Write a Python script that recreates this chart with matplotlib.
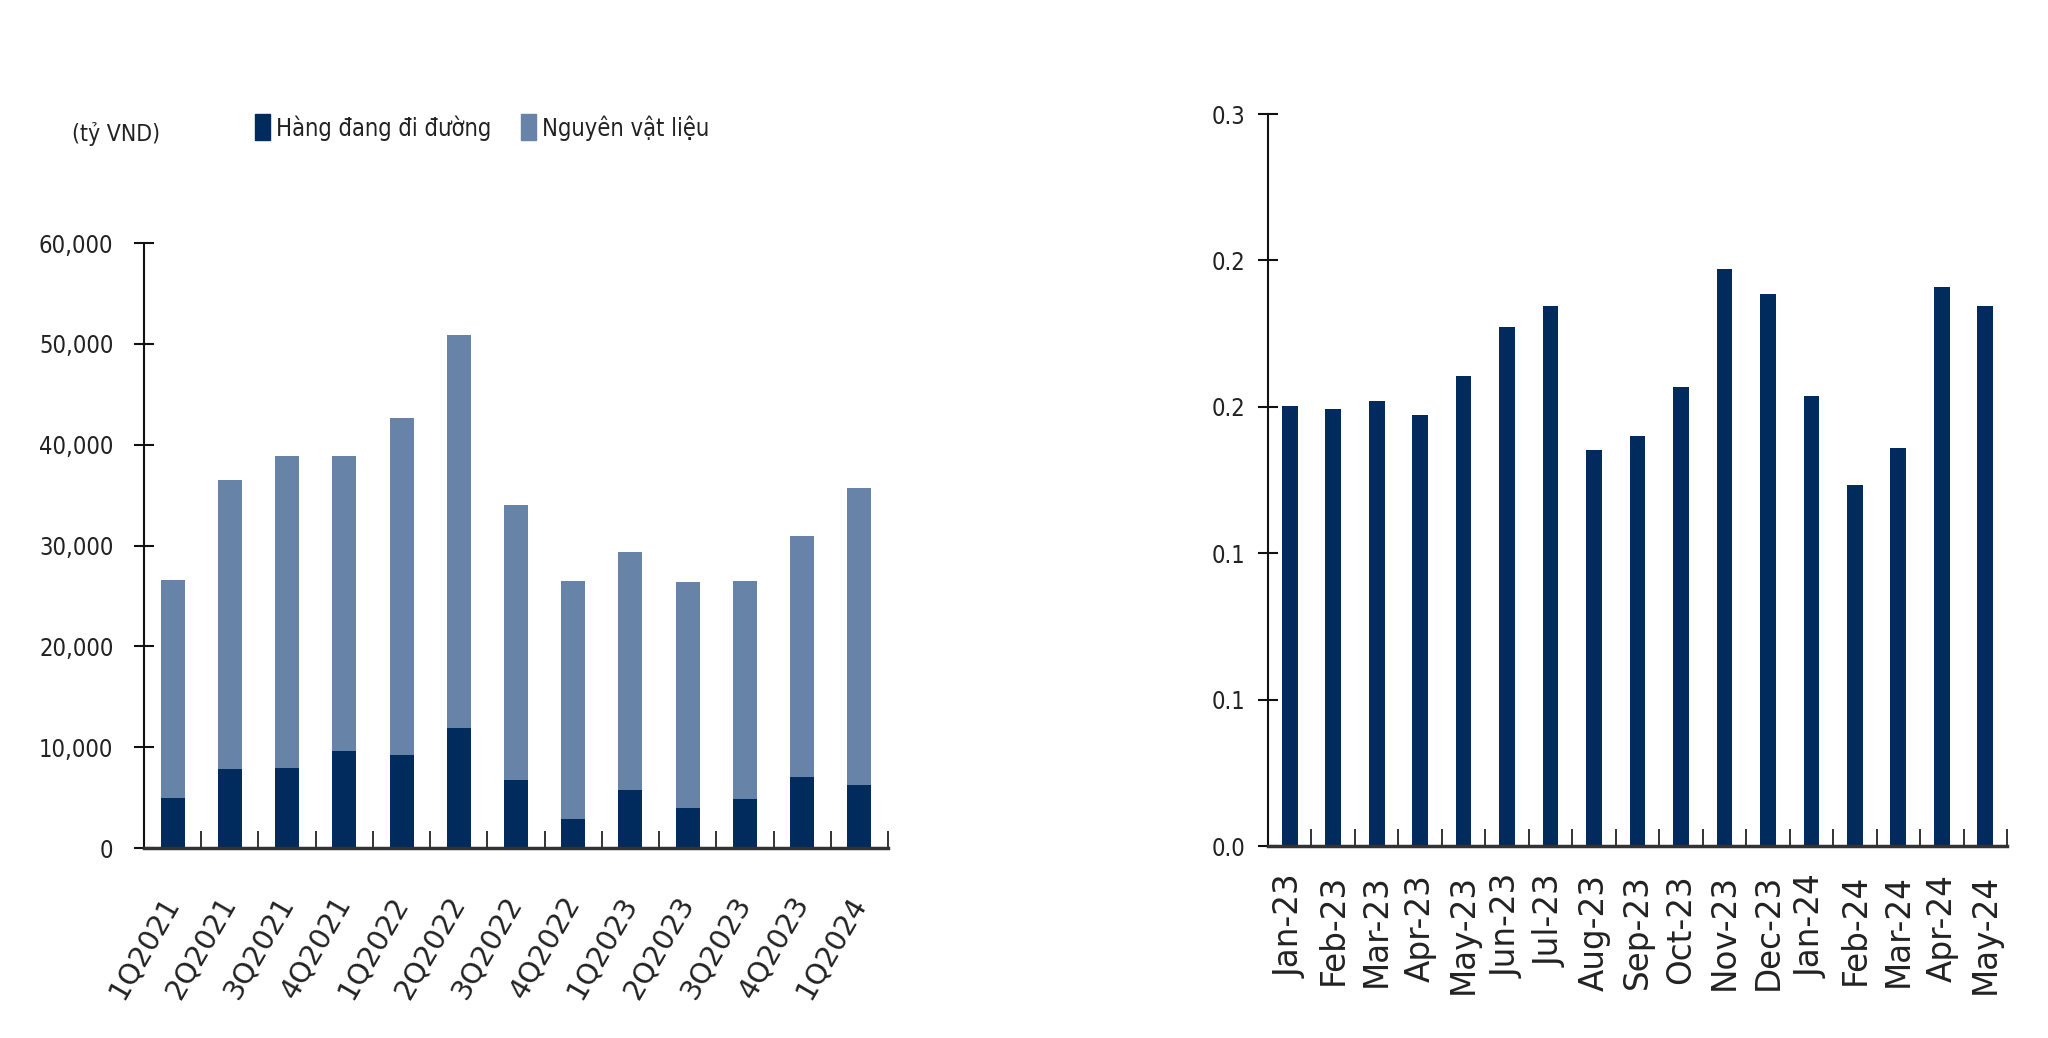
import matplotlib
matplotlib.use("Agg")
import matplotlib.pyplot as plt
import numpy as np
from matplotlib.patches import Rectangle
from matplotlib.ticker import FixedLocator, FuncFormatter

# ---------------- data ----------------
quarters = ["1Q2021", "2Q2021", "3Q2021", "4Q2021", "1Q2022", "2Q2022", "3Q2022",
            "4Q2022", "1Q2023", "2Q2023", "3Q2023", "4Q2023", "1Q2024"]
totals = [26600, 36500, 38900, 38900, 42600, 50900, 34000,
          26500, 29400, 26400, 26450, 30900, 35700]
in_transit = [5000, 7850, 7950, 9600, 9200, 11900, 6700,
              2850, 5750, 3950, 4900, 7000, 6200]
raw_materials = [t - d for t, d in zip(totals, in_transit)]

months = ["Jan-23", "Feb-23", "Mar-23", "Apr-23", "May-23", "Jun-23", "Jul-23",
          "Aug-23", "Sep-23", "Oct-23", "Nov-23", "Dec-23", "Jan-24", "Feb-24",
          "Mar-24", "Apr-24", "May-24"]
ratio = [0.1805, 0.1790, 0.1825, 0.1765, 0.1925, 0.2128, 0.2215,
         0.1622, 0.1682, 0.1880, 0.2363, 0.2263, 0.1845, 0.1478,
         0.1630, 0.2292, 0.2213]

left_yticks = [0, 10000, 20000, 30000, 40000, 50000, 60000]
right_yticks = [0.0, 0.06, 0.12, 0.18, 0.24, 0.30]

legend_labels = ["Hàng đang đi đường", "Nguyên vật liệu"]
unit_label = "(tỷ VND)"

# ---------------- style ----------------
DARK = "#002B5C"
LIGHT = "#6783A8"
TXT = "#222222"
NARROW = ["DejaVu Sans"]
XFONT = ["DejaVu Sans"]
STRETCH = "condensed"

W, H = 2048, 1038
fig = plt.figure(figsize=(W / 100, H / 100), dpi=100)

def fr(x0, y_top, x1, y_bot):
    return [x0 / W, (H - y_bot) / H, (x1 - x0) / W, (y_bot - y_top) / H]

def style_axes(ax, ypad):
    ax.spines["top"].set_visible(False)
    ax.spines["right"].set_visible(False)
    ax.spines["left"].set_color("#111111")
    ax.spines["left"].set_linewidth(1.5)
    ax.spines["bottom"].set_color("#333333")
    ax.spines["bottom"].set_linewidth(2.5)
    ax.tick_params(axis="y", direction="inout", length=14, width=1.5, color="#111111",
                   pad=ypad, labelsize=17, labelcolor=TXT)
    for lab in ax.get_yticklabels():
        lab.set_family(NARROW)
        lab.set_stretch(STRETCH)
    ax.tick_params(axis="x", which="major", length=0)
    ax.tick_params(axis="x", which="minor", direction="in", length=12, width=1.2,
                   color="#111111")

# ---------------- left chart ----------------
ax1 = fig.add_axes(fr(144, 243, 888, 848))
x = np.arange(len(quarters))
bw = 0.42
ax1.bar(x, in_transit, width=bw, color=DARK, zorder=2)
ax1.bar(x, raw_materials, width=bw, bottom=in_transit, color=LIGHT, zorder=2)
ax1.set_xlim(-0.5, len(quarters) - 0.5)
ax1.set_ylim(0, 60000)
ax1.yaxis.set_major_locator(FixedLocator(left_yticks))
ax1.yaxis.set_major_formatter(FuncFormatter(lambda v, p: f"{int(v):,}"))
ax1.set_xticks(x)
ax1.set_xticklabels(quarters, rotation=60, ha="right", va="center",
                    rotation_mode="anchor", fontsize=20.5, family=XFONT, color=TXT)
ax1.xaxis.set_minor_locator(FixedLocator(np.arange(0.5, len(quarters), 1.0)))
style_axes(ax1, 15)
ax1.tick_params(axis="x", which="major", pad=36)

# unit label and legend
fig.text(72 / W, 1 - 134 / H, unit_label, fontsize=16.5, family=NARROW,
         stretch=STRETCH, color=TXT, va="center", ha="left")
leg_y = 128
for (sx, tx, col, lbl) in [(255, 276, DARK, legend_labels[0]),
                           (521, 542, LIGHT, legend_labels[1])]:
    fig.patches.append(Rectangle((sx / W, 1 - (leg_y + 12) / H), 15 / W, 26 / H,
                                 transform=fig.transFigure, color=col))
    fig.text(tx / W, 1 - leg_y / H, lbl, fontsize=17, family=NARROW,
             stretch=STRETCH, color=TXT, va="center", ha="left")

# ---------------- right chart ----------------
ax2 = fig.add_axes(fr(1268, 114, 2007, 846))
xm = np.arange(len(months))
ax2.bar(xm, ratio, width=0.36, color=DARK, zorder=2)
ax2.set_xlim(-0.5, len(months) - 0.5)
ax2.set_ylim(0, 0.30)
ax2.yaxis.set_major_locator(FixedLocator(right_yticks))
ax2.yaxis.set_major_formatter(FuncFormatter(lambda v, p: f"{v:.1f}"))
ax2.set_xticks(xm)
ax2.set_xticklabels(months, rotation=90, ha="center", va="top",
                    fontsize=23.5, family=XFONT, color=TXT)
ax2.xaxis.set_minor_locator(FixedLocator(np.arange(0.5, len(months), 1.0)))
style_axes(ax2, 9)
ax2.tick_params(axis="x", which="major", pad=20)

fig.savefig("out.png", dpi=100, facecolor="white")
